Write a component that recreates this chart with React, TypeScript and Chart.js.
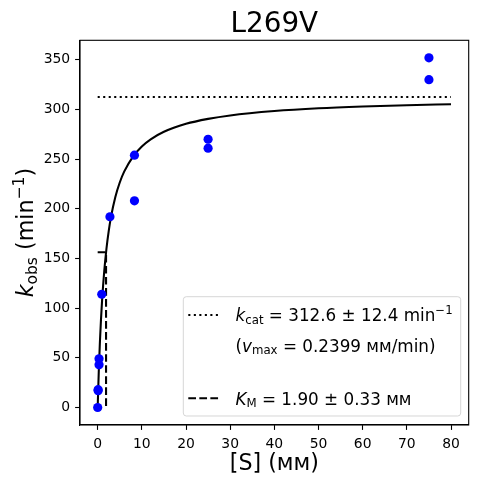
import { useEffect, useRef } from 'react'
import { Chart, registerables } from 'chart.js'

Chart.register(...registerables)

// measured points
const substrateMM = [0, 0.103, 0.103, 0.309, 0.309, 0.926, 2.78, 8.33, 8.33, 25, 25, 75, 75]
const kObs = [0, 17, 18, 43, 49, 114, 192, 254, 208, 270, 261, 352, 330]

// fitted curve
const fitS = [0, 0.25, 0.5, 0.75, 1, 1.5, 2, 2.5, 3, 4, 5, 6, 8, 10, 12, 15, 20, 25, 30, 40, 50, 60, 70, 80]
const fitK = [0, 36.3, 65.1, 88.5, 107.8, 137.9, 160.3, 177.6, 191.4, 211.9, 226.5, 237.4, 252.6, 262.7, 269.9, 277.5, 285.5, 290.5, 294.0, 298.4, 301.2, 303.0, 304.3, 305.3]

const kcat = 312.6
const kcatSpan = [0, 80]
const km = 1.9
const halfK = 156.3

const xTicks = [0, 10, 20, 30, 40, 50, 60, 70, 80]
const yTicks = [0, 50, 100, 150, 200, 250, 300, 350]

const FONT = '"DejaVu Sans"'

type Seg = { t: string; i?: boolean; sub?: boolean; sup?: boolean }

function segFont(s: Seg, size: number) {
  const sz = s.sub || s.sup ? size * 0.7 : size
  return `${s.i ? 'italic ' : ''}${sz}px ${FONT}`
}

function mathWidth(ctx: CanvasRenderingContext2D, segs: Seg[], size: number) {
  let w = 0
  for (const s of segs) {
    ctx.font = segFont(s, size)
    w += ctx.measureText(s.t).width
  }
  return w
}

function drawMath(ctx: CanvasRenderingContext2D, segs: Seg[], x: number, y: number, size: number, center = false) {
  let cx = center ? x - mathWidth(ctx, segs, size) / 2 : x
  ctx.textAlign = 'left'
  ctx.textBaseline = 'alphabetic'
  ctx.fillStyle = '#000'
  for (const s of segs) {
    ctx.font = segFont(s, size)
    const dy = s.sub ? size * 0.16 : s.sup ? -size * 0.42 : 0
    ctx.fillText(s.t, cx, y + dy)
    cx += ctx.measureText(s.t).width
  }
}

const decor = {
  id: 'decor',
  afterDraw(chart: Chart) {
    const { ctx, chartArea: a } = chart
    ctx.save()
    // frame
    ctx.strokeStyle = '#000'
    ctx.lineWidth = 1.1
    ctx.strokeRect(a.left, a.top, a.right - a.left, a.bottom - a.top)

    // title
    ctx.fillStyle = '#000'
    ctx.font = `27.8px ${FONT}`
    ctx.textAlign = 'center'
    ctx.textBaseline = 'alphabetic'
    ctx.fillText('L269V', (a.left + a.right) / 2, 32.3)

    // axis labels
    drawMath(ctx, [{ t: '[S] (ᴍᴍ)' }], (a.left + a.right) / 2, 470, 22.2, true)
    ctx.save()
    ctx.translate(33, (a.top + a.bottom) / 2)
    ctx.rotate(-Math.PI / 2)
    drawMath(ctx, [{ t: 'k', i: true }, { t: 'obs', sub: true }, { t: ' (min' }, { t: '−1', sup: true }, { t: ')' }], 0, 0, 22.2, true)
    ctx.restore()

    // legend
    const bx = 183.3, by = 296.7, bw = 277.4, bh = 119.3
    ctx.beginPath()
    ctx.roundRect(bx, by, bw, bh, 3)
    ctx.fillStyle = 'rgba(255,255,255,0.8)'
    ctx.fill()
    ctx.strokeStyle = 'rgba(204,204,204,0.8)'
    ctx.lineWidth = 1
    ctx.stroke()

    ctx.strokeStyle = '#000'
    ctx.lineWidth = 2.08
    ctx.setLineDash([2.08, 3.43])
    ctx.beginPath()
    ctx.moveTo(188.3, 315)
    ctx.lineTo(220, 315)
    ctx.stroke()
    ctx.setLineDash([7.7, 3.33])
    ctx.beginPath()
    ctx.moveTo(188.3, 398.3)
    ctx.lineTo(220, 398.3)
    ctx.stroke()
    ctx.setLineDash([])

    const fs = 16.8
    drawMath(ctx, [{ t: 'k', i: true }, { t: 'cat', sub: true }, { t: ' = 312.6 ± 12.4 min' }, { t: '−1', sup: true }], 235.5, 321.3, fs)
    drawMath(ctx, [{ t: '(' }, { t: 'v', i: true }, { t: 'max', sub: true }, { t: ' = 0.2399 ᴍᴍ/min)' }], 235.5, 351.5, fs)
    drawMath(ctx, [{ t: 'K', i: true }, { t: 'M', sub: true }, { t: ' = 1.90 ± 0.33 ᴍᴍ' }], 235.5, 404.5, fs)
    ctx.restore()
  },
}

export default function App() {
  const canvasRef = useRef<HTMLCanvasElement>(null)
  const chartRef = useRef<Chart | null>(null)

  useEffect(() => {
    if (!canvasRef.current) return
    chartRef.current?.destroy()

    const tickFont = { family: FONT, size: 13.9 }

    chartRef.current = new Chart(canvasRef.current, {
      type: 'scatter',
      data: {
        datasets: [
          {
            label: 'data',
            data: substrateMM.map((s, i) => ({ x: s, y: kObs[i] })),
            backgroundColor: '#0000ff',
            borderColor: '#0000ff',
            pointRadius: 4.6,
            borderWidth: 0,
            order: 0,
          },
          {
            label: 'fit',
            data: fitS.map((s, i) => ({ x: s, y: fitK[i] })),
            showLine: true,
            borderColor: '#000',
            borderWidth: 2.08,
            pointRadius: 0,
            cubicInterpolationMode: 'monotone',
            order: 1,
          },
          {
            label: 'kcat',
            data: kcatSpan.map(x => ({ x, y: kcat })),
            showLine: true,
            borderColor: '#000',
            borderWidth: 2.08,
            borderDash: [2.08, 3.43],
            pointRadius: 0,
            order: 2,
          },
          {
            label: 'KM',
            data: [{ x: 0, y: halfK }, { x: km, y: halfK }, { x: km, y: 0 }],
            showLine: true,
            borderColor: '#000',
            borderWidth: 2.08,
            borderDash: [7.7, 3.33],
            pointRadius: 0,
            order: 3,
          },
        ],
      },
      options: {
        animation: false,
        responsive: true,
        maintainAspectRatio: false,
        layout: { padding: { left: 0, right: 8.3, top: 40.3, bottom: 0 } },
        plugins: {
          legend: { display: false },
          tooltip: { enabled: false },
          title: { display: false },
        },
        scales: {
          x: {
            type: 'linear',
            min: -4,
            max: 84,
            afterBuildTicks: s => { s.ticks = xTicks.map(v => ({ value: v })) },
            afterFit: s => { s.height = 59 },
            grid: { drawOnChartArea: false, drawTicks: true, tickLength: 4.9, tickWidth: 1.1, tickColor: '#000' },
            border: { display: true, color: '#000', width: 1.1 },
            ticks: { color: '#000', font: tickFont, padding: 6.5, maxRotation: 0 },
          },
          y: {
            type: 'linear',
            min: -17.6,
            max: 369.6,
            afterBuildTicks: s => { s.ticks = yTicks.map(v => ({ value: v })) },
            afterFit: s => { s.width = 80 },
            grid: { drawOnChartArea: false, drawTicks: true, tickLength: 4.9, tickWidth: 1.1, tickColor: '#000' },
            border: { display: true, color: '#000', width: 1.1 },
            ticks: { color: '#000', font: tickFont, padding: 4.9 },
          },
        },
      },
      plugins: [decor],
    })

    return () => { chartRef.current?.destroy() }
  }, [])

  return (
    <div style={{ position: 'absolute', left: 0, top: 0, width: 477, height: 484, background: '#fff' }}>
      <canvas ref={canvasRef} />
    </div>
  )
}
